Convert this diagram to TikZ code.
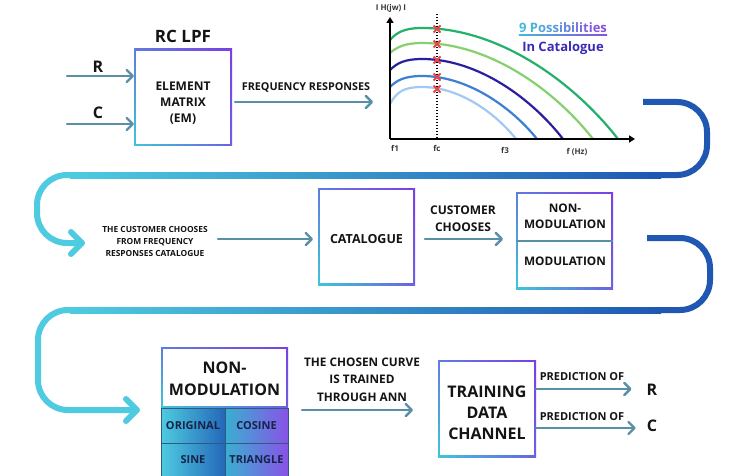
\documentclass[tikz,border=0pt]{standalone}
\usepackage{fontspec}
\setmainfont{Open Sans}
\usetikzlibrary{arrows.meta,shadings}

\definecolor{frameCyan}{HTML}{3FC6D8}
\definecolor{framePurple}{HTML}{7B3FE4}
\definecolor{arrowSteel}{HTML}{5A8FA8}
\definecolor{loopDark}{HTML}{1F57B3}
\definecolor{loopCyan}{HTML}{4ECBE0}
\definecolor{inkDark}{HTML}{141414}
\definecolor{cellInk}{HTML}{16234A}
\definecolor{cellLine}{HTML}{2F5A86}
\definecolor{crvA}{HTML}{22B06A}
\definecolor{crvB}{HTML}{86D06E}
\definecolor{crvC}{HTML}{2A1F9E}
\definecolor{crvD}{HTML}{3D7FD0}
\definecolor{crvE}{HTML}{A3C9F2}
\definecolor{markRed}{HTML}{E84444}
\definecolor{possA}{HTML}{45B9DC}
\definecolor{possB}{HTML}{8A4FE0}
\definecolor{catInk}{HTML}{3A2AB8}

\newcommand\gradchar[2]{\textcolor{possB!#1!possA}{#2}}

\begin{document}
\begin{tikzpicture}[x=1pt,y=-1pt,
  gbox/.style={inner sep=0pt, outer sep=0pt,
    path picture={
      \shade[upper left=frameCyan!45!framePurple, upper right=framePurple,
             lower left=frameCyan, lower right=framePurple!75!frameCyan]
        (path picture bounding box.south west) rectangle (path picture bounding box.north east);
      \fill[white] ([shift={(2.4pt,2.4pt)}]path picture bounding box.south west)
        rectangle ([shift={(-2.4pt,-2.4pt)}]path picture bounding box.north east);
    }},
  lbl/.style={inner sep=0pt, align=center, text=inkDark},
  arr/.style={draw=arrowSteel, line width=2.4pt, line cap=round,
    -{Straight Barb[length=6pt,width=12pt,line cap=round,line join=round]}},
  bigloop/.style={line width=6pt, rounded corners=30pt},
  bigtip/.style={-{Straight Barb[length=11pt,width=22pt,line cap=round,line join=round]}},
  cell/.style={inner sep=0pt, outer sep=0pt, draw=cellLine, line width=0.6pt,
    text=cellInk, font=\fontsize{11}{12}\selectfont\bfseries},
  lcell/.style={cell, left color=loopCyan, right color=loopDark!85!frameCyan},
  rcell/.style={cell, left color=frameCyan!80!loopDark, right color=framePurple!90!white},
  axislbl/.style={lbl, font=\fontsize{8}{9}\selectfont\bfseries, text=inkDark!85}
]
\useasboundingbox (0,0) rectangle (747,476);
\fill[white] (0,0) rectangle (747,476);

% ---------- first row: RC low-pass filter ----------
\node[lbl, font=\fontsize{17}{20}\selectfont\bfseries] (rclpf) at (183,36) {RC LPF};
\node[gbox, minimum width=98pt, minimum height=97pt] (em) at (183,97.5) {};
\node[lbl, font=\fontsize{12}{16}\selectfont\bfseries] (emtxt) at (183,103) {ELEMENT\\MATRIX\\(EM)};

\node[lbl, font=\fontsize{16}{20}\selectfont\bfseries] (rlab) at (98,67) {R};
\node[lbl, font=\fontsize{16}{20}\selectfont\bfseries] (clab) at (98,113) {C};
\coordinate (rin) at (67,76);
\coordinate (cin) at (67,124);
\draw[arr] (rin) -- (rin -| em.west);
\draw[arr] (cin) -- (cin -| em.west);

\node[lbl, font=\fontsize{10.8}{12}\selectfont\bfseries] (freqtxt) at (306,88) {FREQUENCY RESPONSES};
\coordinate (freqend) at (373,102);
\draw[arr, shorten <=3pt] (freqend -| em.east) -- (freqend);

% ---------- frequency response plot ----------
\coordinate (orig) at (390,139);
\draw[black, line width=1.5pt, dash pattern=on 1.5pt off 1.5pt] (437,14) -- (437,139);
\foreach \c/\a/\b/\e in {crvE/104/87/516, crvD/87/76/537, crvC/70/59/563, crvB/53/43/593, crvA/40/28/618}{
  \draw[\c, line width=2.2pt]
    (390,\a) .. controls (397,\b+4) and (405,\b) .. (422,\b)
    .. controls ({422+0.4*(\e-422)},\b) and ({\e-0.22*(\e-422)},{\b+0.5*(139-\b)}) .. (\e,139);
}
\foreach \y in {29,44,60,77,89}{
  \draw[markRed, line width=1.8pt] (433.5,\y-3.5) -- (440.5,\y+3.5) (433.5,\y+3.5) -- (440.5,\y-3.5);
}
\draw[black, line width=1.6pt, -{Triangle[length=6pt,width=7pt]}] (orig) -- (390,17);
\draw[black, line width=1.6pt, -{Triangle[length=6pt,width=7pt]}] (orig) -- (635,139);

\node[axislbl] (hjw) at (391,8) {I H(jw) I};
\node[axislbl] (f1) at (395,148) {f1};
\node[axislbl] (fc) at (437,148) {fc};
\node[axislbl] (f3) at (505,150) {f3};
\node[axislbl] (fhz) at (577,152) {f (Hz)};

\node[lbl, font=\fontsize{13}{14}\selectfont\bfseries] (poss) at (563,28)
  {\gradchar{0}{9} \gradchar{8}{P}\gradchar{16}{o}\gradchar{24}{s}\gradchar{32}{s}\gradchar{40}{i}\gradchar{48}{b}\gradchar{56}{i}\gradchar{64}{l}\gradchar{72}{i}\gradchar{80}{t}\gradchar{88}{i}\gradchar{94}{e}\gradchar{100}{s}};
\shade[left color=possA, right color=possB] (poss.south west |- 0,34.5) rectangle (poss.south east |- 0,35.8);
\node[lbl, text=catInk, font=\fontsize{13}{14}\selectfont\bfseries] (incat) at (563,48) {In Catalogue};

% ---------- connector to second row ----------
\coordinate (loopAstart) at (643,102);
\coordinate (loopAend) at (85,243);
\draw[loopDark, bigloop] (loopAstart) -- (707,102) -- (707,175) -- (660,175);
\shade[left color=loopCyan, right color=loopDark] (70,172) rectangle (661,178);
\draw[loopCyan, bigloop, bigtip] (71,175) -- (37,175) -- (37,243) -- (loopAend);

% ---------- second row: catalogue ----------
\node[lbl, font=\fontsize{8.4}{12}\selectfont\bfseries] (custtxt) at (155,241)
  {THE CUSTOMER CHOOSES\\FROM FREQUENCY\\RESPONSES CATALOGUE};
\node[gbox, minimum width=97pt, minimum height=97pt] (cat) at (366.5,236.5) {};
\node[lbl, font=\fontsize{12.5}{14}\selectfont\bfseries] (cattxt) at (366.5,239) {CATALOGUE};
\coordinate (custarr) at (218,239);
\draw[arr, shorten >=5pt] (custarr) -- (custarr -| cat.west);

\node[lbl, font=\fontsize{12}{17}\selectfont\bfseries] (chooses) at (463,218.5) {CUSTOMER\\CHOOSES};
\node[gbox, minimum width=97pt, minimum height=97pt] (nmm) at (564.5,240.5) {};
\draw[arrowSteel, line width=2pt] (nmm.west) -- (nmm.east);
\node[lbl, font=\fontsize{11.8}{16}\selectfont\bfseries] (nmsmall) at (565,216) {NON-\\MODULATION};
\node[lbl, font=\fontsize{11.8}{13}\selectfont\bfseries] (modsmall) at (565,261) {MODULATION};
\coordinate (catarr) at (425,239);
\draw[arr, shorten >=13pt] (catarr) -- (catarr -| nmm.west);

% ---------- connector to third row ----------
\coordinate (loopBstart) at (647,238);
\coordinate (loopBend) at (140,410);
\draw[loopDark, bigloop] (loopBstart) -- (710,238) -- (710,310) -- (660,310);
\shade[left color=loopCyan, right color=loopDark] (70,307) rectangle (661,313);
\draw[loopCyan, bigloop, bigtip] (71,310) -- (38,310) -- (38,410) -- (loopBend);

% ---------- third row: non-modulation training ----------
\node[gbox, minimum width=127pt, minimum height=61pt] (nmbig) at (224.5,377.5) {};
\node[lbl, font=\fontsize{16}{22}\selectfont\bfseries] (nmbigtxt) at (224.5,379) {NON-\\MODULATION};
\node[lcell, minimum width=64pt, minimum height=35pt] (original) at (193,425.5) {ORIGINAL};
\node[rcell, minimum width=63pt, minimum height=35pt] (cosine) at (256.5,425.5) {COSINE};
\node[lcell, minimum width=64pt, minimum height=33pt] (sine) at (193,459.5) {SINE};
\node[rcell, minimum width=63pt, minimum height=33pt] (triangle) at (256.5,459.5) {TRIANGLE};

\node[lbl, font=\fontsize{11.8}{17.5}\selectfont\bfseries] (chosen) at (362,379.5)
  {THE CHOSEN CURVE\\IS TRAINED\\THROUGH ANN};
\node[gbox, minimum width=98pt, minimum height=97pt] (train) at (487,408.5) {};
\node[lbl, font=\fontsize{16}{21}\selectfont\bfseries] (traintxt) at (487,413) {TRAINING\\DATA\\CHANNEL};
\coordinate (annarr) at (302,410);
\draw[arr, shorten >=25pt] (annarr) -- (annarr -| train.west);

\node[lbl, font=\fontsize{11}{12}\selectfont\bfseries] (predr) at (582,377) {PREDICTION OF};
\node[lbl, font=\fontsize{11}{12}\selectfont\bfseries] (predc) at (582,417) {PREDICTION OF};
\node[lbl, font=\fontsize{16}{20}\selectfont\bfseries] (rout) at (652,390) {R};
\node[lbl, font=\fontsize{16}{20}\selectfont\bfseries] (cout) at (652,426) {C};
\coordinate (rarr) at (0,389);
\coordinate (carr) at (0,428);
\draw[arr] (rarr -| train.east) -- ([xshift=-15pt]rarr -| rout.west);
\draw[arr] (carr -| train.east) -- ([xshift=-11pt]carr -| cout.west);
\end{tikzpicture}
\end{document}
